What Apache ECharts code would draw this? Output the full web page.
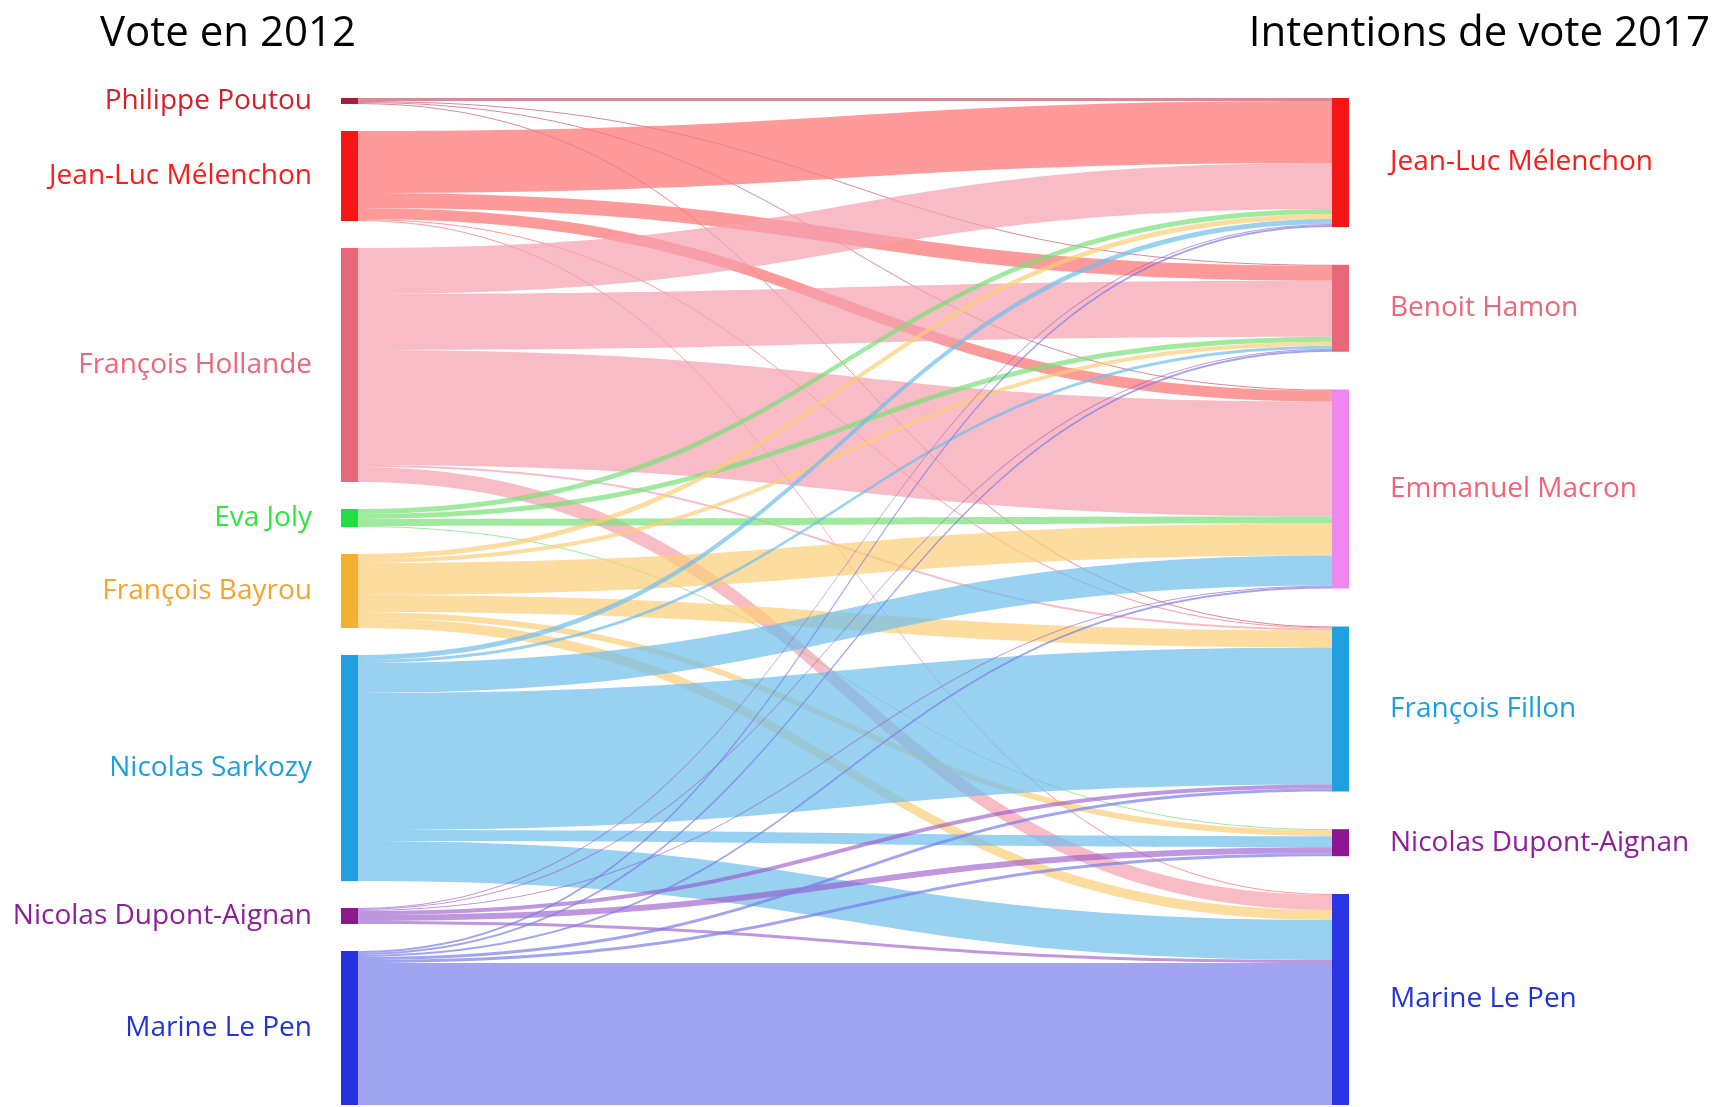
<!DOCTYPE html>
<html>
<head>
<meta charset="utf-8">
<script src="https://cdn.jsdelivr.net/npm/echarts@6/dist/echarts.min.js"></script>
<style>
  html, body { margin: 0; padding: 0; background: #fff; }
  #chart { width: 1715px; height: 1107px; }
</style>
</head>
<body>
<div id="chart"></div>
<script>
// 2012 vote (left) -> 2017 voting intention (right)
const leftNames = ['Philippe Poutou', 'Jean-Luc Mélenchon', 'François Hollande', 'Eva Joly',
  'François Bayrou', 'Nicolas Sarkozy', 'Nicolas Dupont-Aignan', 'Marine Le Pen'];
const rightNames = ['Jean-Luc Mélenchon', 'Benoit Hamon', 'Emmanuel Macron',
  'François Fillon', 'Nicolas Dupont-Aignan', 'Marine Le Pen'];

// rows: 2012 candidate, columns: 2017 candidate (same order as rightNames)
const flows = [
  [3, 1, 1, 1, 0, 0],          // Poutou
  [62, 15, 11, 1, 0, 1],       // Mélenchon
  [46, 56, 115, 2, 0, 15],     // Hollande
  [5, 5, 7, 0, 1, 0],          // Joly
  [5, 4, 32, 17, 6, 10],       // Bayrou
  [5, 3, 30, 137, 11, 40],     // Sarkozy
  [1, 1, 1, 4, 6, 3],          // Dupont-Aignan
  [2, 2, 2, 3, 3, 142]         // Le Pen
];

const titles = ['Vote en 2012', 'Intentions de vote 2017'];

// styles
const leftNodeColors = ['#a3203a', '#f51616', '#e8687a', '#22dd44', '#f5b030', '#20a0e0', '#8a1a8a', '#2632dd'];
const rightNodeColors = ['#f51616', '#e8687a', '#ee88ee', '#20a0e0', '#8e1592', '#2a35e6'];
const leftLabelColors = ['#d81e28', '#ff1a1a', '#ee6677', '#2ee83a', '#f6a52a', '#1aa0e0', '#8f1d9c', '#2233dd'];
const rightLabelColors = ['#ff1a1a', '#ee6677', '#ee6677', '#1aa0e0', '#8f1d9c', '#2233dd'];
const linkColors = ['rgba(190,60,85,0.6)', 'rgba(255,120,120,0.75)', 'rgba(245,160,175,0.7)',
  'rgba(120,225,120,0.7)', 'rgba(252,205,120,0.7)', 'rgba(110,190,235,0.7)',
  'rgba(150,80,200,0.6)', 'rgba(120,125,235,0.7)'];

const FONT = 'Open Sans';
const TOP = 98, BOTTOM = 2, LEFT = 341, RIGHT = 366;
const NODE_GAP = 27;
const H = 1107 - TOP - BOTTOM;

// spread the right column over the whole height, like the left one
const leftSum = flows.reduce((s, r) => s + r.reduce((a, b) => a + b, 0), 0);
const rightTotals = rightNames.map((_, j) => flows.reduce((s, r) => s + r[j], 0));
const ky = (H - (leftNames.length - 1) * NODE_GAP) / leftSum;
const rightGap = (H - leftSum * ky) / (rightNames.length - 1);
let acc = 0;
const rightLocalY = rightTotals.map(v => {
  const y = acc / H;
  acc += v * ky + rightGap;
  return y;
});

const labelText = {};
const nodes = [];
leftNames.forEach((n, i) => {
  labelText['L' + i] = n;
  nodes.push({
    id: 'L' + i, name: n,
    itemStyle: { color: leftNodeColors[i] },
    label: { position: 'left', distance: 29, color: leftLabelColors[i] }
  });
});
rightNames.forEach((n, j) => {
  labelText['R' + j] = n;
  nodes.push({
    id: 'R' + j, name: n, localY: rightLocalY[j],
    itemStyle: { color: rightNodeColors[j] },
    label: { position: 'right', distance: 41, color: rightLabelColors[j] }
  });
});

const links = [];
flows.forEach((row, i) => row.forEach((v, j) => {
  if (v > 0) links.push({ source: 'L' + i, target: 'R' + j, value: v,
    lineStyle: { color: linkColors[i], opacity: 1 } });
}));

const chart = echarts.init(document.getElementById('chart'));
chart.setOption({
  animation: false,
  backgroundColor: '#fff',
  title: [
    { text: titles[0], left: 95, top: 8,
      textStyle: { fontSize: 42, fontWeight: 'normal', color: '#000', fontFamily: FONT } },
    { text: titles[1], right: 0, top: 8,
      textStyle: { fontSize: 42, fontWeight: 'normal', color: '#000', fontFamily: FONT } }
  ],
  series: [{
    type: 'sankey',
    left: LEFT, right: RIGHT, top: TOP, bottom: BOTTOM,
    nodeWidth: 17,
    nodeGap: NODE_GAP,
    layoutIterations: 0,
    draggable: false,
    emphasis: { disabled: true },
    label: {
      fontSize: 28, fontFamily: FONT,
      formatter: p => (p.data && p.data.name) || labelText[p.name] || p.name
    },
    lineStyle: { curveness: 0.5 },
    data: nodes,
    links: links
  }]
});
</script>
</body>
</html>
